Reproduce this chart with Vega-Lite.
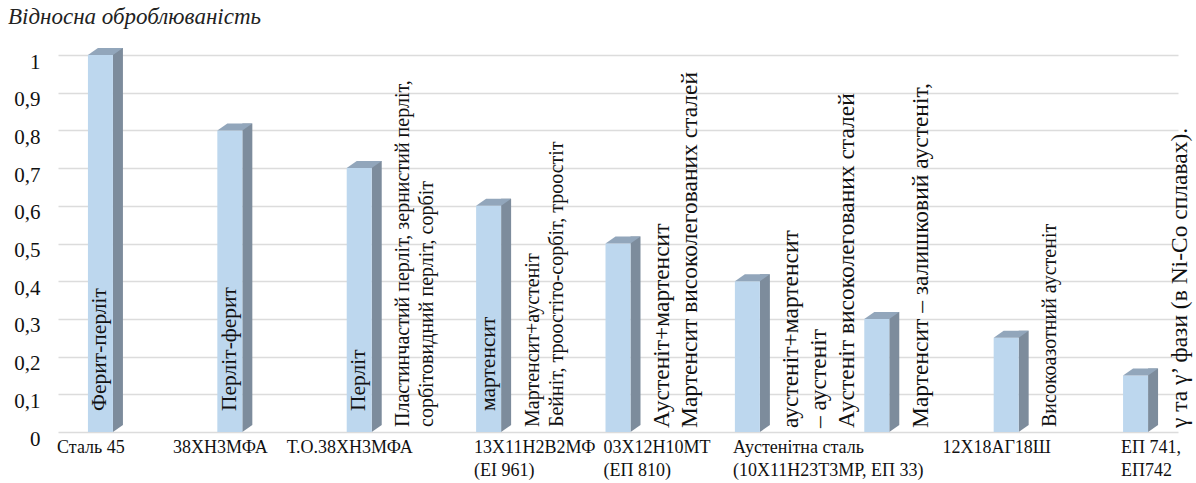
{
  "$schema": "https://vega.github.io/schema/vega-lite/v6.json",
  "width": 1120,
  "height": 377,
  "autosize": "none",
  "padding": {"left": 58, "top": 55, "right": 18, "bottom": 51},
  "background": "white",
  "config": {
    "view": {"stroke": null},
    "font": "Liberation Serif",
    "text": {"font": "Liberation Serif"},
    "axis": {"labelFont": "Liberation Serif"},
    "title": {"font": "Liberation Serif"}
  },
  "title": {
    "text": "Відносна оброблюваність",
    "anchor": "start",
    "frame": "group",
    "font": "Liberation Serif",
    "fontStyle": "italic",
    "fontWeight": "normal",
    "fontSize": 23,
    "color": "#222222",
    "dx": -50,
    "dy": -19,
    "offset": 0
  },
  "datasets": {
    "bars": [
      {"cat": "Сталь 45", "value": 1},
      {"cat": "38ХН3МФА", "value": 0.8},
      {"cat": "Т.О.38ХН3МФА", "value": 0.7},
      {"cat": "13Х11Н2В2МФ\n(ЕІ 961)", "value": 0.6},
      {"cat": "03Х12Н10МТ\n(ЕП 810)", "value": 0.5},
      {"cat": "Аустенітна сталь\n(10Х11Н23Т3МР, ЕП 33)", "value": 0.4},
      {"cat": "", "value": 0.3},
      {"cat": "12Х18АГ18Ш", "value": 0.25},
      {"cat": "ЕП 741,\nЕП742", "value": 0.15}
    ],
    "inbar": [
      {"cat": "Сталь 45", "text": "Ферит-перліт"},
      {"cat": "38ХН3МФА", "text": "Перліт-ферит"},
      {"cat": "Т.О.38ХН3МФА", "text": "Перліт"},
      {"cat": "13Х11Н2В2МФ\n(ЕІ 961)", "text": "мартенсит"}
    ],
    "side": [
      {"cat": "Т.О.38ХН3МФА", "box": "small", "text": "Пластинчастий перліт, зернистий перліт,\nсорбітовидний перліт, сорбіт"},
      {"cat": "13Х11Н2В2МФ\n(ЕІ 961)", "box": "small", "text": "Мартенсит+аустеніт\nБейніт, троостіто-сорбіт, троостіт"},
      {"cat": "03Х12Н10МТ\n(ЕП 810)", "box": "large", "text": "Аустеніт+мартенсит\nМартенсит високолегованих сталей"},
      {"cat": "Аустенітна сталь\n(10Х11Н23Т3МР, ЕП 33)", "box": "large", "text": "аустеніт+мартенсит\n\u2002\u2009– аустеніт\nАустеніт високолегованих сталей"},
      {"cat": "", "box": "large", "text": "Мартенсит – залишковий аустеніт,"},
      {"cat": "12Х18АГ18Ш", "box": "small", "text": "Високоазотний аустеніт"},
      {"cat": "ЕП 741,\nЕП742", "box": "large", "text": "γ та γ’ фази (в Ni-Co сплавах)."}
    ]
  },
  "encoding": {
    "x": {
      "field": "cat",
      "type": "nominal",
      "sort": null,
      "scale": {
        "type": "point",
        "padding": 0.328,
        "domain": ["Сталь 45", "38ХН3МФА", "Т.О.38ХН3МФА", "13Х11Н2В2МФ\n(ЕІ 961)", "03Х12Н10МТ\n(ЕП 810)", "Аустенітна сталь\n(10Х11Н23Т3МР, ЕП 33)", "", "12Х18АГ18Ш", "ЕП 741,\nЕП742"]
      },
      "axis": {
        "title": null,
        "labelAngle": 0,
        "labelFont": "Liberation Serif",
        "labelFontSize": 18,
        "labelColor": "#111111",
        "labelExpr": "split(datum.label, '\\n')",
        "labelLineHeight": 23,
        "labelBaseline": "top",
        "labelPadding": 6,
        "labelAlign": {"condition": {"test": "indexof(datum.label, '\\n') >= 0", "value": "left"}, "value": "center"},
        "labelOffset": {"condition": {"test": "indexof(datum.label, '\\n') >= 0", "value": -15}, "value": -10},
        "labelLimit": 300,
        "labelOverlap": false,
        "ticks": false,
        "tickSize": 0,
        "domain": false,
        "grid": false
      }
    }
  },
  "layer": [
    {
      "data": {"name": "bars"},
      "mark": {"type": "bar", "color": "#7d8c9c", "width": 10, "xOffset": 17.5, "yOffset": -7, "y2Offset": -7},
      "encoding": {
        "y": {
          "field": "value",
          "type": "quantitative",
          "scale": {"domain": [0, 1], "nice": false, "zero": true},
          "axis": {
            "title": null,
            "values": [0, 0.1, 0.2, 0.3, 0.4, 0.5, 0.6, 0.7, 0.8, 0.9, 1],
            "tickCount": 11,
            "labelExpr": "replace(format(datum.value, '.1~f'), '.', ',')",
            "labelFont": "Liberation Serif",
            "labelFontSize": 21,
            "labelColor": "#111111",
            "labelPadding": 18,
            "labelOffset": 7,
            "labelOverlap": false,
            "labelFlush": false,
            "ticks": false,
            "tickSize": 0,
            "domain": false,
            "grid": true,
            "gridColor": "#dcdcdc",
            "gridWidth": 1.5
          }
        },
        "y2": {"datum": 0}
      }
    },
    {
      "data": {"name": "bars"},
      "mark": {"type": "point", "shape": "M 0.556 0 L 0.556 -0.311 L 1 -0.311 Z", "size": 2025, "filled": true, "opacity": 1, "color": "#7d8c9c", "strokeWidth": 0},
      "encoding": {"y": {"datum": 0, "type": "quantitative", "axis": {"title": null, "values": [0, 0.1, 0.2, 0.3, 0.4, 0.5, 0.6, 0.7, 0.8, 0.9, 1], "labelOverlap": false}}}
    },
    {
      "data": {"name": "bars"},
      "mark": {"type": "bar", "color": "#bdd7ee", "width": 25},
      "encoding": {
        "y": {"field": "value", "type": "quantitative", "axis": {"title": null, "values": [0, 0.1, 0.2, 0.3, 0.4, 0.5, 0.6, 0.7, 0.8, 0.9, 1], "labelOverlap": false}},
        "y2": {"datum": 0}
      }
    },
    {
      "data": {"name": "bars"},
      "mark": {"type": "point", "shape": "M -0.556 0 L 0.556 0 L 1 -0.311 L -0.111 -0.311 Z", "size": 2025, "filled": true, "opacity": 1, "color": "#92a6bb", "strokeWidth": 0},
      "encoding": {"y": {"field": "value", "type": "quantitative", "axis": {"title": null, "values": [0, 0.1, 0.2, 0.3, 0.4, 0.5, 0.6, 0.7, 0.8, 0.9, 1], "labelOverlap": false}}}
    },
    {
      "data": {"name": "inbar"},
      "mark": {"type": "text", "angle": 270, "align": "left", "baseline": "middle", "dx": 21, "font": "Liberation Serif", "fontSize": 21.5, "color": "#111111"},
      "encoding": {"y": {"datum": 0, "type": "quantitative", "axis": {"title": null, "values": [0, 0.1, 0.2, 0.3, 0.4, 0.5, 0.6, 0.7, 0.8, 0.9, 1], "labelOverlap": false}}, "text": {"field": "text"}}
    },
    {
      "data": {"name": "side"},
      "transform": [{"filter": "datum.box === 'small'"}],
      "mark": {"type": "text", "angle": 270, "align": "left", "baseline": "top", "dx": 5, "dy": 34, "lineBreak": "\n", "lineHeight": 24, "font": "Liberation Serif", "fontSize": 20, "color": "#111111"},
      "encoding": {"y": {"datum": 0, "type": "quantitative", "axis": {"title": null, "values": [0, 0.1, 0.2, 0.3, 0.4, 0.5, 0.6, 0.7, 0.8, 0.9, 1], "labelOverlap": false}}, "text": {"field": "text"}}
    },
    {
      "data": {"name": "side"},
      "transform": [{"filter": "datum.box === 'large'"}],
      "mark": {"type": "text", "angle": 270, "align": "left", "baseline": "top", "dx": 4, "dy": 32, "lineBreak": "\n", "lineHeight": 28, "font": "Liberation Serif", "fontSize": 23.5, "color": "#111111"},
      "encoding": {"y": {"datum": 0, "type": "quantitative", "axis": {"title": null, "values": [0, 0.1, 0.2, 0.3, 0.4, 0.5, 0.6, 0.7, 0.8, 0.9, 1], "labelOverlap": false}}, "text": {"field": "text"}}
    }
  ]
}
